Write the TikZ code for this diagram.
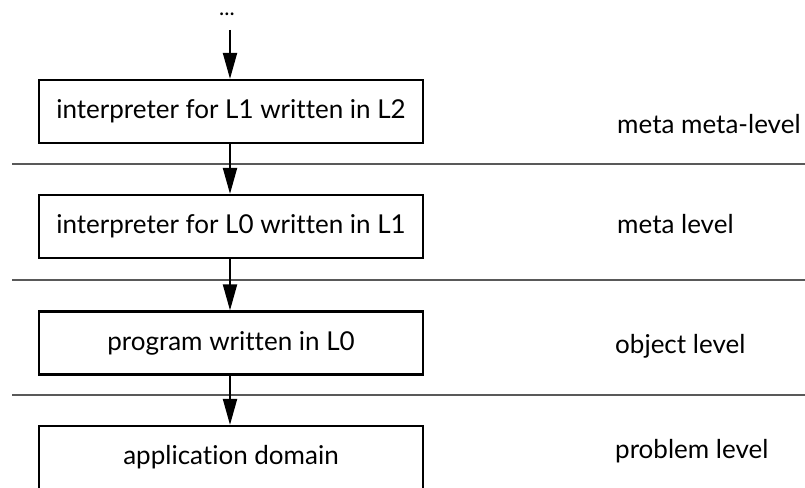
\documentclass[tikz,border=0pt]{standalone}
\usepackage{fontspec}
\setmainfont{Lato}[Ligatures=NoCommon]
\usetikzlibrary{arrows.meta}
\begin{document}
\begin{tikzpicture}[x=1pt,y=-1pt,
  levelbox/.style={draw=black,line width=2.2pt,minimum width=384pt,minimum height=63pt,inner sep=0pt,
    text height=14pt,text depth=0pt,font=\fontsize{26}{30}\selectfont},
  levellabel/.style={anchor=base west,inner sep=0pt,font=\fontsize{26}{30}\selectfont},
  flow/.style={line width=2pt,-{Triangle[length=26pt,width=14pt]}},
  sep/.style={line width=1.5pt,draw=black!65}]
\useasboundingbox (0,0) rectangle (805,487);
\node[inner sep=0pt,anchor=base,font=\fontsize{22}{24}\selectfont] (dots) at (227,16) {...};
\coordinate (top) at (230,30);
\node[levelbox] (b1) at (231,111.5) {interpreter for L1 written in L2};
\node[levelbox] (b2) at (231,226.5) {interpreter for L0 written in L1};
\node[levelbox] (b3) at (231,343) {program written in L0};
\node[levelbox] (b4) at (231,457.5) {application domain};
\draw[sep] (12,164) -- (805,164);
\draw[sep] (12,280) -- (805,280);
\draw[sep] (12,395) -- (805,395);
\draw[flow] (top) -- (b1.north -| top);
\draw[flow] (b1.south -| top) -- (b2.north -| top);
\draw[flow] (b2.south -| top) -- (b3.north -| top);
\draw[flow] (b3.south -| top) -- (b4.north -| top);
\node[levellabel] (l1) at (617,133) {meta meta-level};
\node[levellabel] (l2) at (617,233) {meta level};
\node[levellabel] (l3) at (615,353) {object level};
\node[levellabel] (l4) at (615,458) {problem level};
\end{tikzpicture}
\end{document}
